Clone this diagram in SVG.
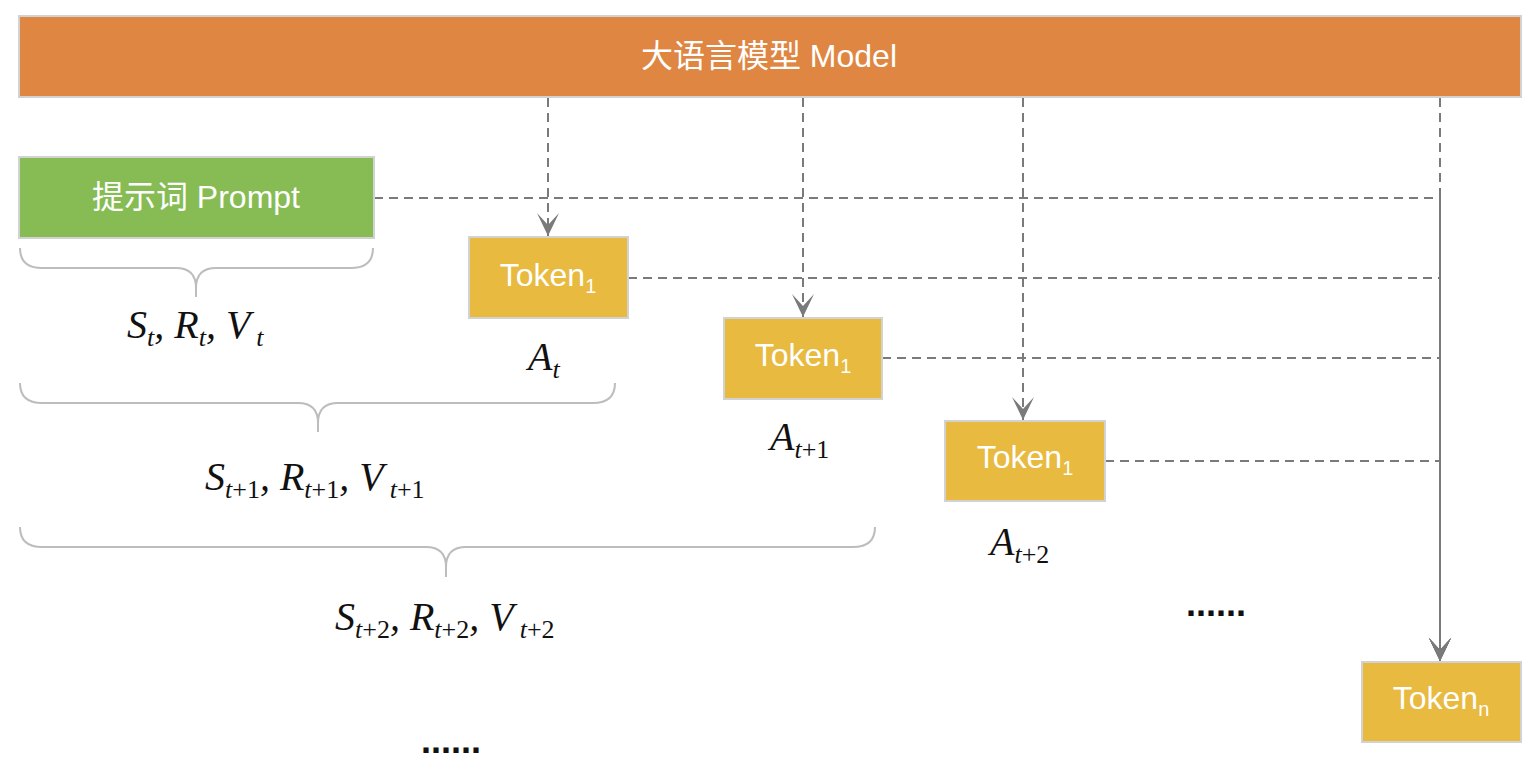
<svg xmlns="http://www.w3.org/2000/svg" width="1540" height="774" viewBox="0 0 1540 774">
<style>
.lbl{font-family:"Liberation Sans","Noto Sans CJK SC",Arial,sans-serif;font-size:32px;fill:#ffffff;text-anchor:middle}
.sub{font-size:20px}
.math{font-family:"Liberation Serif","Times New Roman",serif;font-size:40px;font-style:italic;fill:#111111}
.msub{font-size:26px}
.rm{font-style:normal}
.tok{fill:#E8BA40;stroke:#D2D2D2;stroke-width:2}
.conn{fill:none;stroke:#7A7A7A;stroke-width:2;stroke-dasharray:9 6}
.brace{fill:none;stroke:#BDBDBD;stroke-width:2}
.dots{font-family:"Liberation Sans",Arial,sans-serif;font-size:36px;font-weight:bold;fill:#111111}
</style>
<defs>
<marker id="arr" markerUnits="userSpaceOnUse" markerWidth="26" markerHeight="26" viewBox="-24 -13 26 26" refX="0" refY="0" orient="auto">
<path d="M0,0 L-23,-11 L-11,0 L-23,11 Z" fill="#7A7A7A"/>
</marker>
</defs>
<rect width="1540" height="774" fill="#ffffff"/>
<g id="connectors">
<path class="conn" d="M374,198 H1440 V661" marker-end="url(#arr)"/>
<path class="conn" d="M628,278 H1440 V661" marker-end="url(#arr)"/>
<path class="conn" d="M882,358 H1440 V661" marker-end="url(#arr)"/>
<path class="conn" d="M1105,461 H1440 V661" marker-end="url(#arr)"/>
<path class="conn" d="M548,98 V236" marker-end="url(#arr)"/>
<path class="conn" d="M803,98 V317" marker-end="url(#arr)"/>
<path class="conn" d="M1023,98 V420" marker-end="url(#arr)"/>
<path class="conn" d="M1440,98 V661" marker-end="url(#arr)"/>
</g>
<g id="model">
<rect x="19" y="16" width="1502" height="81" fill="#DF8642" stroke="#D2D2D2" stroke-width="2"/>
<text class="lbl" x="769" y="67">大语言模型 Model</text>
</g>
<g id="prompt">
<rect x="19" y="157" width="355" height="81" fill="#86BC53" stroke="#D2D2D2" stroke-width="2"/>
<text class="lbl" x="196" y="208">提示词 Prompt</text>
</g>
<g id="token-t">
<rect class="tok" x="469" y="237" width="159" height="81"/>
<text class="lbl" x="548" y="286">Token<tspan class="sub" dy="7">1</tspan></text>
</g>
<g id="token-t1">
<rect class="tok" x="724" y="318" width="158" height="81"/>
<text class="lbl" x="803" y="366">Token<tspan class="sub" dy="7">1</tspan></text>
</g>
<g id="token-t2">
<rect class="tok" x="945" y="421" width="160" height="80"/>
<text class="lbl" x="1025" y="468">Token<tspan class="sub" dy="7">1</tspan></text>
</g>
<g id="token-n">
<rect class="tok" x="1362" y="662" width="159" height="80"/>
<text class="lbl" x="1441" y="709">Token<tspan class="sub" dy="7">n</tspan></text>
</g>
<g id="brace-t">
<path class="brace" d="M20,248 Q20,268 42,268 H176 Q196,268 196,288 V297 M196,288 Q196,268 216,268 H351 Q373,268 373,248"/>
<text class="math" x="127" y="338">S<tspan class="msub" dy="8">t</tspan><tspan dy="-8">, R</tspan><tspan class="msub" dy="8">t</tspan><tspan dy="-8">, V</tspan><tspan class="msub" dx="6" dy="8">t</tspan></text>
</g>
<g id="label-at">
<text class="math" x="528" y="370">A<tspan class="msub" dy="8">t</tspan></text>
</g>
<g id="brace-t1">
<path class="brace" d="M20,383 Q20,403 42,403 H298 Q318,403 318,423 V432 M318,423 Q318,403 338,403 H593 Q615,403 615,383"/>
<text class="math" x="205" y="490">S<tspan class="msub" dy="8">t</tspan><tspan class="msub rm">+1</tspan><tspan dy="-8">, R</tspan><tspan class="msub" dy="8">t</tspan><tspan class="msub rm">+1</tspan><tspan dy="-8">, V</tspan><tspan class="msub" dx="6" dy="8">t</tspan><tspan class="msub rm">+1</tspan></text>
</g>
<g id="label-at1">
<text class="math" x="770" y="450">A<tspan class="msub" dy="8">t</tspan><tspan class="msub rm">+1</tspan></text>
</g>
<g id="brace-t2">
<path class="brace" d="M20,527 Q20,547 42,547 H426 Q446,547 446,567 V577 M446,567 Q446,547 466,547 H853 Q875,547 875,527"/>
<text class="math" x="335" y="630">S<tspan class="msub" dy="8">t</tspan><tspan class="msub rm">+2</tspan><tspan dy="-8">, R</tspan><tspan class="msub" dy="8">t</tspan><tspan class="msub rm">+2</tspan><tspan dy="-8">, V</tspan><tspan class="msub" dx="6" dy="8">t</tspan><tspan class="msub rm">+2</tspan></text>
</g>
<g id="label-at2">
<text class="math" x="990" y="555">A<tspan class="msub" dy="8">t</tspan><tspan class="msub rm">+2</tspan></text>
</g>
<text class="dots" x="1186" y="616">......</text>
<text class="dots" x="421" y="753">......</text>
</svg>
